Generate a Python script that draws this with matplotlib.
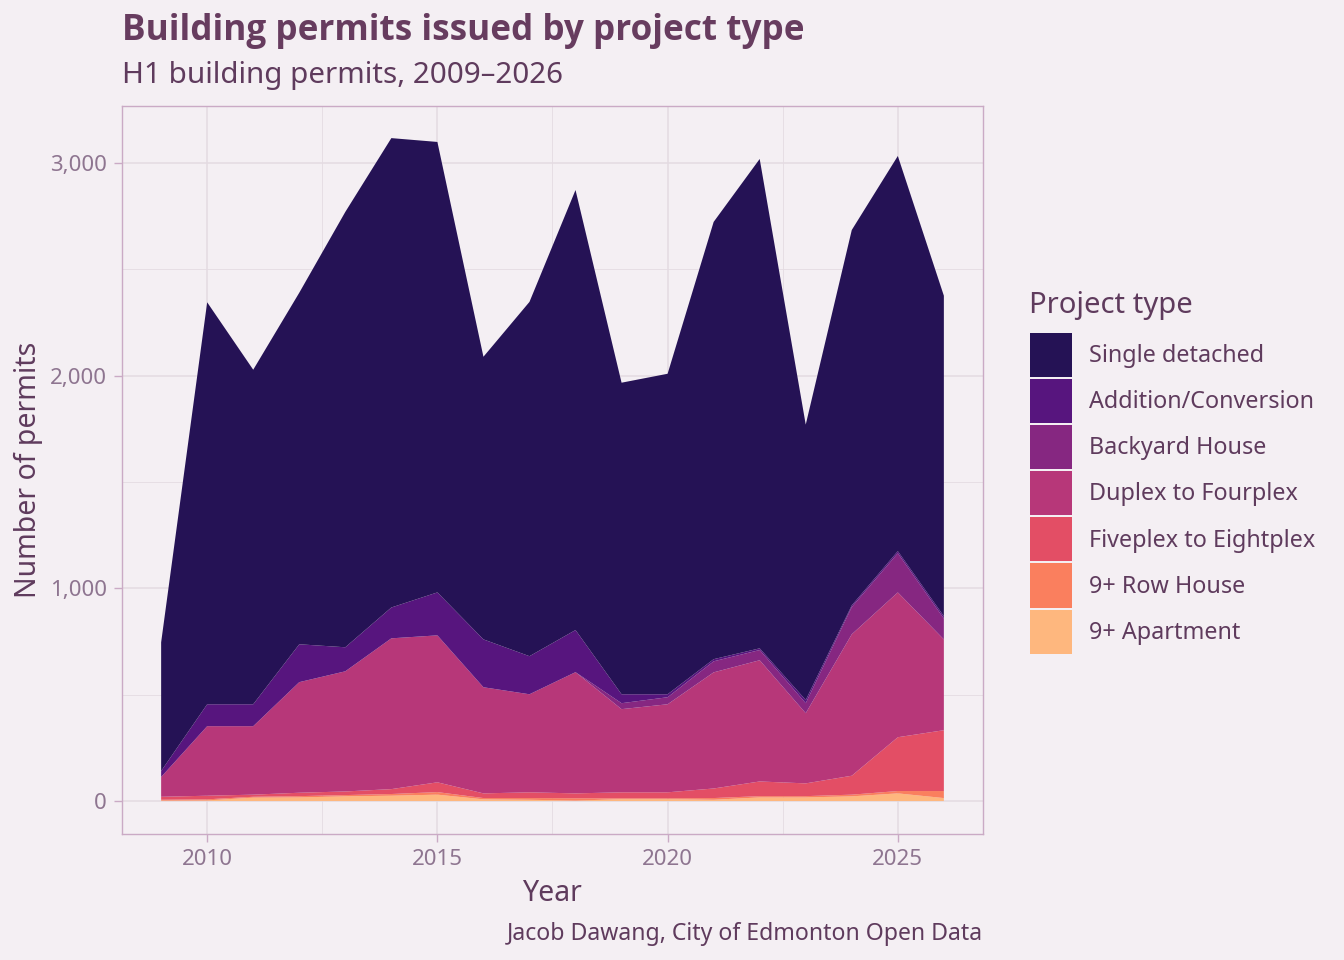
import os
import numpy as np
import matplotlib.pyplot as plt
import matplotlib
from matplotlib import font_manager
from matplotlib.patches import Patch
from matplotlib.ticker import FuncFormatter, MultipleLocator

plt.rcParams['font.family'] = ['Noto Sans', 'DejaVu Sans']

# pick a family that really has a bold face for the title
bold_family = 'DejaVu Sans'
for fam in ['Noto Sans', 'Open Sans', 'Lato', 'Roboto', 'Liberation Sans']:
    try:
        path = font_manager.findfont(font_manager.FontProperties(family=fam, weight='bold'),
                                     fallback_to_default=False)
    except Exception:
        continue
    if 'bold' in os.path.basename(path).lower():
        bold_family = fam
        break

# data (permits per year)
years = np.arange(2009, 2027)
apartment = [2, 3, 16, 17, 22, 25, 30, 8, 6, 2, 9, 9, 6, 17, 17, 22, 36, 14]
row_house = [4, 5, 4, 6, 6, 8, 12, 6, 8, 11, 4, 4, 8, 6, 6, 8, 11, 33]
fiveplex = [14, 17, 10, 16, 17, 23, 46, 22, 27, 23, 28, 28, 45, 69, 60, 89, 253, 286]
duplex = [93, 327, 322, 520, 565, 709, 691, 499, 461, 570, 391, 414, 546, 570, 330, 665, 681, 427]
backyard = [0, 0, 0, 0, 0, 0, 0, 0, 0, 0, 28, 33, 52, 48, 47, 128, 184, 98]
addition = [28, 103, 103, 178, 113, 145, 202, 225, 179, 198, 42, 14, 10, 8, 15, 8, 10, 11]
single = [605, 1890, 1573, 1653, 2047, 2207, 2118, 1329, 1666, 2069, 1465, 1507, 2056, 2301, 1295, 1765, 1858, 1507]

labels = ['Single detached', 'Addition/Conversion', 'Backyard House', 'Duplex to Fourplex',
          'Fiveplex to Eightplex', '9+ Row House', '9+ Apartment']
colors = [matplotlib.colormaps['magma'](v) for v in np.linspace(0.15, 0.85, 7)]

bg = '#F4EFF3'
txt = '#5F3B5D'
tick_col = '#8E7590'
grid_col = '#E4DBE2'

fig = plt.figure(figsize=(13.44, 9.6), dpi=100, facecolor=bg)
ax = fig.add_axes([122/1344, 1-834/960, (983-122)/1344, (834-106)/960], facecolor=bg)

# stack from bottom: apartment first
layers = [apartment, row_house, fiveplex, duplex, backyard, addition, single]
ax.stackplot(years, *layers, colors=colors[::-1], linewidth=0, zorder=3, antialiased=True)

ax.set_xlim(2008.15, 2026.85)
ax.set_ylim(-155, 3268)
ax.xaxis.set_major_locator(MultipleLocator(5))
ax.xaxis.set_minor_locator(MultipleLocator(2.5))
ax.yaxis.set_major_locator(MultipleLocator(1000))
ax.yaxis.set_minor_locator(MultipleLocator(500))
ax.yaxis.set_major_formatter(FuncFormatter(lambda v, p: f'{int(v):,}'))

ax.grid(True, which='major', color=grid_col, linewidth=1.1, zorder=0)
ax.grid(True, which='minor', color=grid_col, linewidth=0.6, zorder=0)
ax.set_axisbelow(True)

for s in ax.spines.values():
    s.set_color('#CAAAC5')
    s.set_linewidth(1.0)

ax.tick_params(which='major', length=6, width=1, color='#CAAAC5', labelsize=16,
               labelcolor=tick_col, pad=5)
ax.tick_params(which='minor', length=0)

# titles
fig.text(122/1344, 1-40/960, 'Building permits issued by project type', fontsize=25.3,
         fontweight='bold', family=bold_family, color='#673C5F', ha='left', va='baseline')
fig.text(122/1344, 1-83/960, 'H1 building permits, 2009\u20132026', fontsize=21.3,
         color=txt, ha='left', va='baseline')
fig.text(552/1344, 1-901/960, 'Year', fontsize=20.5, color=txt, ha='center', va='baseline')
fig.text(28/1344, 1-470/960, 'Number of permits', fontsize=20.5, color=txt,
         ha='center', va='center', rotation=90)
fig.text(983/1344, 1-940/960, 'Jacob Dawang, City of Edmonton Open Data', fontsize=16.6,
         color=txt, ha='right', va='baseline')

# legend: title as separate text so the gap to the keys matches
fig.text(1029/1344, 1-313/960, 'Project type', fontsize=21, color=txt,
         ha='left', va='baseline')
handles = [Patch(facecolor=c, edgecolor='none') for c in colors]
leg = fig.legend(handles, labels, loc='upper left', bbox_to_anchor=(1030/1344, 1-333/960),
                 frameon=False, fontsize=16.8,
                 handlelength=1.80, handleheight=2.53, labelspacing=0.086,
                 handletextpad=0.73, borderpad=0, borderaxespad=0)
for t in leg.get_texts():
    t.set_color(txt)

fig.savefig('out.png', dpi=100, facecolor=bg)
